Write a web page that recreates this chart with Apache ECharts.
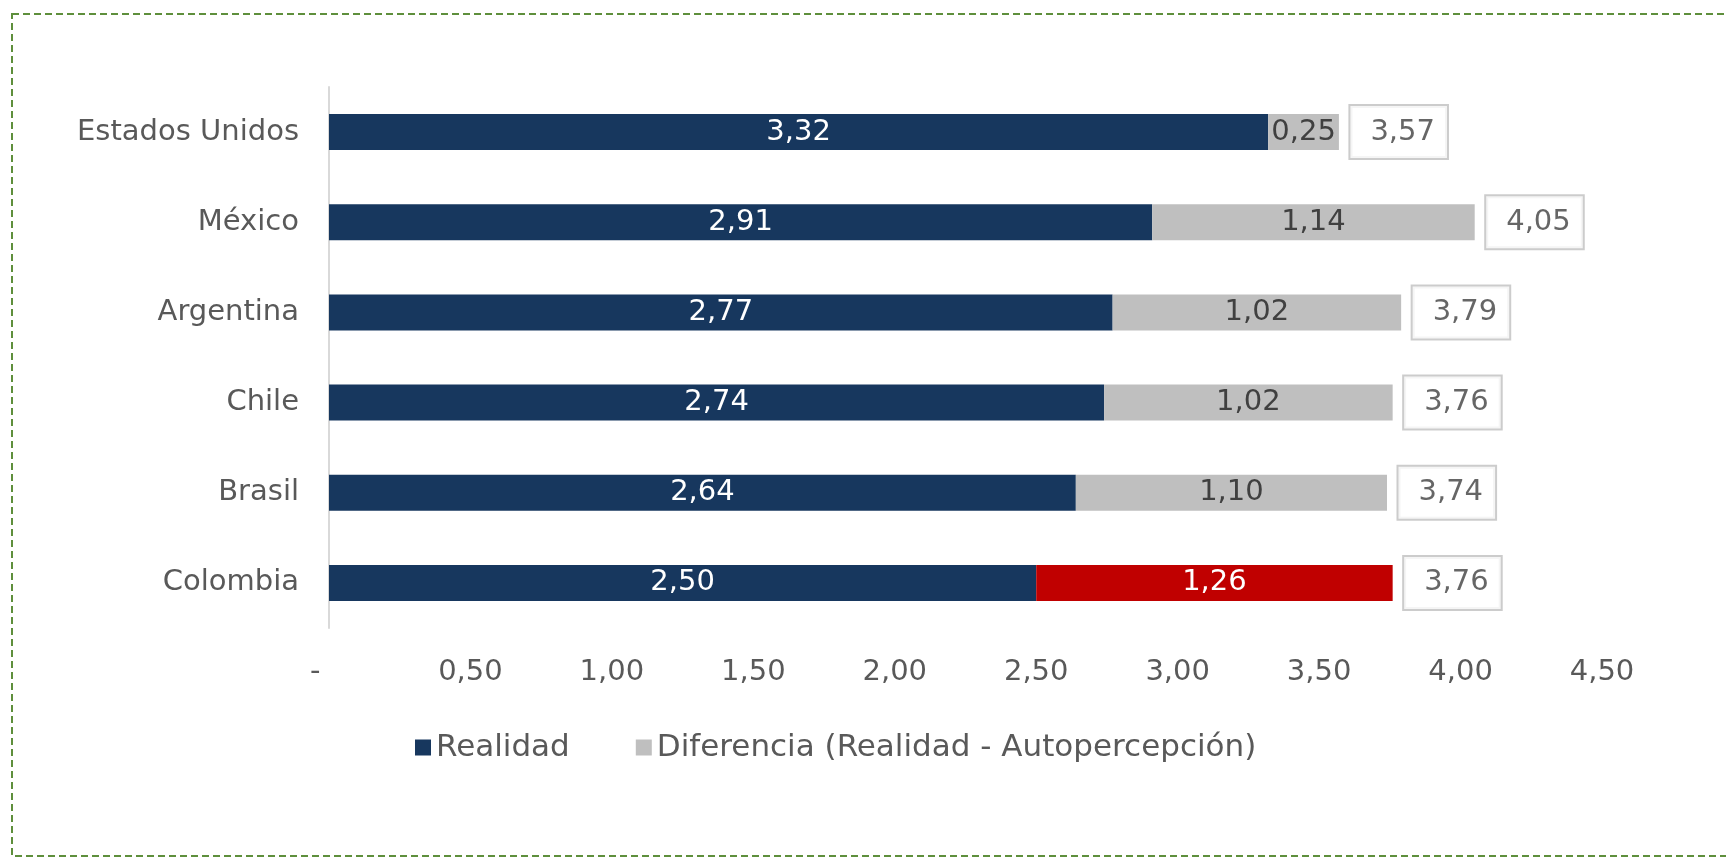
<!DOCTYPE html>
<html>
<head>
<meta charset="utf-8">
<script src="https://cdn.jsdelivr.net/npm/echarts@6/dist/echarts.min.js"></script>
<style>
  html, body { margin: 0; padding: 0; background: #fff; }
  #chart { width: 1726px; height: 858px; }
</style>
</head>
<body>
<div id="chart"></div>
<script>
// datos (de arriba hacia abajo)
const categories = ['Estados Unidos', 'México', 'Argentina', 'Chile', 'Brasil', 'Colombia']
const realidad = [3.32, 2.91, 2.77, 2.74, 2.64, 2.50]
const diferencia = [0.25, 1.14, 1.02, 1.02, 1.10, 1.26]
const xTicks = [0, 0.5, 1, 1.5, 2, 2.5, 3, 3.5, 4, 4.5]
const destacado = 'Colombia'

const FONT = '"DejaVu Sans", Verdana, sans-serif'
const SIZE = 29
const fmt = (v) => v.toFixed(2).replace('.', ',')
const totals = realidad.map((v, i) => +(v + diferencia[i]).toFixed(2))

let chart = echarts.init(document.getElementById('chart'))

let option = {
  animation: false,
  textStyle: { fontFamily: FONT },
  grid: { left: 329, right: 124, top: 87, bottom: 230, containLabel: false },
  /* borde punteado verde */
  graphic: [{
    type: 'rect',
    shape: { x: 12, y: 14, width: 1740, height: 842 },
    style: { fill: 'none', stroke: '#5e8f3c', lineWidth: 2, lineDash: [7, 4] },
    silent: true,
  }],
  legend: {
    data: ['Realidad', 'Diferencia (Realidad - Autopercepción)'],
    left: 410,
    top: 727,
    icon: 'rect',
    itemWidth: 16,
    itemHeight: 16,
    itemGap: 66,
    textStyle: { fontSize: 31, color: '#595959', fontFamily: FONT },
  },
  xAxis: {
    type: 'value',
    min: xTicks[0],
    max: xTicks[xTicks.length - 1],
    interval: 0.5,
    axisLine: { show: false },
    axisTick: { show: false },
    splitLine: { show: false },
    axisLabel: {
      fontSize: SIZE,
      color: '#595959',
      margin: 30,
      formatter: (v) => (v === 0 ? '-   ' : fmt(v)),
    },
  },
  yAxis: {
    type: 'category',
    data: categories,
    inverse: true,
    axisLine: { show: true, lineStyle: { color: '#d9d9d9', width: 2 } },
    axisTick: { show: false },
    axisLabel: { fontSize: SIZE, color: '#595959', margin: 30 },
  },
  series: [
    {
      name: 'Realidad',
      type: 'bar',
      stack: 'total',
      barWidth: 36,
      itemStyle: { color: '#17375e' },
      label: {
        show: true,
        position: 'inside',
        color: '#fff',
        fontSize: SIZE,
        formatter: (p) => fmt(p.value),
      },
      data: realidad,
    },
    {
      name: 'Diferencia (Realidad - Autopercepción)',
      type: 'bar',
      stack: 'total',
      barWidth: 36,
      itemStyle: { color: '#bfbfbf' },
      label: {
        show: true,
        position: 'inside',
        color: '#404040',
        fontSize: SIZE,
        formatter: (p) => fmt(p.value),
      },
      data: diferencia.map((v, i) =>
        categories[i] === destacado
          ? { value: v, itemStyle: { color: '#c00000' }, label: { color: '#fff' } }
          : v
      ),
    },
    {
      /* totales en cajas */
      name: 'Total',
      type: 'scatter',
      symbolSize: 1,
      itemStyle: { color: 'rgba(0,0,0,0)' },
      label: {
        show: true,
        position: 'right',
        distance: 11,
        color: '#404040',
        fontSize: SIZE,
        lineHeight: 32,
        backgroundColor: '#fff',
        borderColor: '#bfbfbf',
        borderWidth: 2,
        padding: [10, 12, 10, 20],
        formatter: (p) => fmt(p.value[0]),
      },
      data: totals.map((t, i) => [t, categories[i]]),
    },
  ],
}

chart.setOption(option)
</script>
</body>
</html>
